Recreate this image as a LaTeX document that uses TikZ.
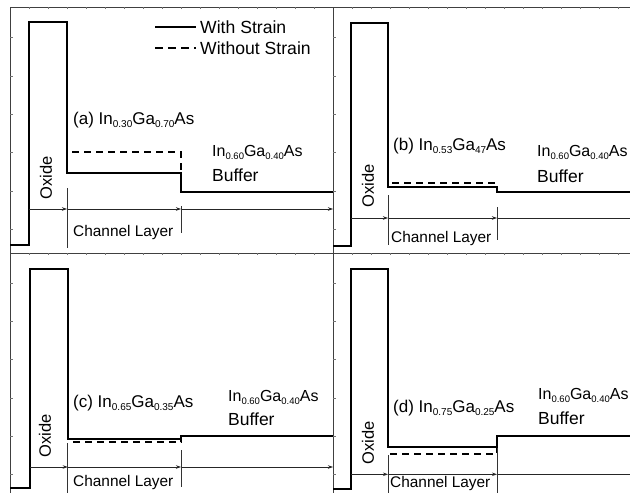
\documentclass[tikz,border=0pt]{standalone}
\usepackage{fontspec}
\setmainfont{Liberation Sans}
\usetikzlibrary{arrows.meta}
\newcommand\lsub[1]{\raisebox{-3.2pt}{\fontsize{10}{10}\selectfont #1}}
\newcommand\bsub[1]{\raisebox{-3pt}{\fontsize{9.5}{9.5}\selectfont #1}}
\tikzset{
 frame/.style={draw=black!75, line width=0.9pt},
 tickm/.style={draw=black!55, line width=0.6pt},
 band/.style={draw=black, line width=1.7pt, line join=miter},
 bandd/.style={draw=black, line width=1.7pt, dash pattern=on 7pt off 5pt},
 legs/.style={draw=black, line width=1.3pt},
 legd/.style={draw=black, line width=1.3pt, dash pattern=on 8pt off 5pt},
 axarr/.style={draw=black!85, line width=0.8pt, -{Stealth[length=5pt,width=3.5pt]}},
 vline/.style={draw=black!80, line width=0.8pt},
 lbl/.style={inner sep=0pt, anchor=west, font=\fontsize{17}{19}\selectfont},
 leg/.style={inner sep=0pt, anchor=west, font=\fontsize{17.6}{19}\selectfont},
 bufl/.style={inner sep=0pt, anchor=west, font=\fontsize{16}{18}\selectfont},
 bufw/.style={inner sep=0pt, anchor=west, font=\fontsize{17.5}{19}\selectfont},
 chl/.style={inner sep=0pt, anchor=west, font=\fontsize{15.4}{17}\selectfont},
 oxl/.style={inner sep=0pt, rotate=90, font=\fontsize{16.5}{18}\selectfont},
}
\begin{document}
\begin{tikzpicture}[x=1pt,y=-1pt]
\clip (0,0) rectangle (630,493);
\fill[white] (0,0) rectangle (630,493);
% frame
\draw[frame] (10,7) -- (640,7);
\draw[frame] (10,253) -- (640,253);
\draw[frame] (10,7) -- (10,500);
\draw[frame] (333,7) -- (333,500);
\foreach \y in {37.7,76,114.3,152.6,191,229.3,283,321.3,359.6,398,436.3,474.6}{
  \draw[tickm] (10,\y) -- ++(2.5,0);
  \draw[tickm] (333,\y) -- ++(2.5,0);
}
\foreach \x in {29,48,67,86,105,124,143,162,181,200,219,238,257,276,295,314,352,371,390,409,428,447,466,485,504,523,542,561,580,599,618}{
  \draw[tickm] (\x,7) -- ++(0,1.8);
  \draw[tickm] (\x,253) -- ++(0,1.8);
}
% legend
\coordinate (ls1) at (155,27); \coordinate (ls2) at (196,27);
\coordinate (ld1) at (155,48); \coordinate (ld2) at (196,48);
\draw[legs] (ls1) -- (ls2);
\draw[legd] (ld1) -- (ld2);
\node[leg] (lt1) at (200,27) {With Strain};
\node[leg] (lt2) at (200,48) {Without Strain};

% ---------- panel (a)
\draw[band] (10,245.3) -- (29,245.3) -- (29,22.3) -- (67,22.3) -- (67,173) -- (181,173) -- (181,192) -- (333,192);
\draw[bandd] (72,152) -- (181,152) -- (181,173);
\coordinate (a0) at (29,209); \coordinate (a1) at (67,209);
\coordinate (a2) at (181,209); \coordinate (a3) at (333,209);
\draw[axarr] (a0) -- (a1);
\draw[axarr] (a1) -- (a2);
\draw[axarr] (a2) -- (a3);
\draw[vline] (67,188) -- (67,248);
\draw[vline] (181,206) -- (181,233);
\node[oxl] (oxa) at (46,178) {Oxide};
\node[lbl] (la) at (73,120) {(a) In\lsub{0.30}Ga\lsub{0.70}As};
\node[bufl] (ba) at (212,152) {In\bsub{0.60}Ga\bsub{0.40}As};
\node[bufw] (bba) at (212,175) {Buffer};
\node[chl] (ca) at (73,233) {Channel Layer};

% ---------- panel (b)
\draw[band] (333,245.7) -- (351,245.7) -- (351,22.7) -- (388,22.7) -- (388,186.7) -- (497,186.7) -- (497,192) -- (640,192);
\draw[bandd] (392,183) -- (497,183) -- (497,192) -- (640,192);
\coordinate (b0) at (351,218); \coordinate (b1) at (388,218);
\coordinate (b2) at (497,218); \coordinate (b3) at (660,218);
\draw[axarr] (b0) -- (b1);
\draw[axarr] (b1) -- (b2);
\draw[axarr] (b2) -- (b3);
\draw[vline] (388,195) -- (388,245);
\draw[vline] (497,207) -- (497,240);
\node[oxl] (oxb) at (368,186) {Oxide};
\node[lbl] (lb) at (393,146) {(b) In\lsub{0.53}Ga\lsub{47}As};
\node[bufl] (bb) at (537,152) {In\bsub{0.60}Ga\bsub{0.40}As};
\node[bufw] (bbb) at (537,176) {Buffer};
\node[chl] (cb) at (391,239) {Channel Layer};

% ---------- panel (c)
\draw[band] (10,488.3) -- (29.7,488.3) -- (29.7,269) -- (67.7,269) -- (67.7,439) -- (181,439) -- (181,436) -- (333,436);
\draw[bandd] (73,442.3) -- (181,442.3) -- (181,437);
\coordinate (c0) at (29.7,467); \coordinate (c1) at (67.7,467);
\coordinate (c2) at (181,467); \coordinate (c3) at (333,467);
\draw[axarr] (c0) -- (c1);
\draw[axarr] (c1) -- (c2);
\draw[axarr] (c2) -- (c3);
\draw[vline] (67.7,443) -- (67.7,500);
\draw[vline] (181,450) -- (181,487);
\node[oxl] (oxc) at (45,436) {Oxide};
\node[lbl] (lc) at (73,403) {(c) In\lsub{0.65}Ga\lsub{0.35}As};
\node[bufl] (bc) at (228,397) {In\bsub{0.60}Ga\bsub{0.40}As};
\node[bufw] (bbc) at (228,419) {Buffer};
\node[chl] (cc) at (73,483) {Channel Layer};

% ---------- panel (d)
\draw[band] (333,489) -- (351,489) -- (351,269) -- (388,269) -- (388,446.7) -- (497,446.7) -- (497,436) -- (640,436);
\draw[bandd] (390,454) -- (497,454) -- (497,447);
\coordinate (d0) at (351,474.3); \coordinate (d1) at (388,474.3);
\coordinate (d2) at (497,474.3); \coordinate (d3) at (660,474.3);
\draw[axarr] (d0) -- (d1);
\draw[axarr] (d1) -- (d2);
\draw[axarr] (d2) -- (d3);
\draw[vline] (388,455) -- (388,500);
\draw[vline] (497,448) -- (497,500);
\node[oxl] (oxd) at (368,443) {Oxide};
\node[lbl] (ld) at (393,408) {(d) In\lsub{0.75}Ga\lsub{0.25}As};
\node[bufl] (bd) at (538,395) {In\bsub{0.60}Ga\bsub{0.40}As};
\node[bufw] (bbd) at (538,418) {Buffer};
\node[chl] (cd) at (390,484) {Channel Layer};
\end{tikzpicture}
\end{document}
